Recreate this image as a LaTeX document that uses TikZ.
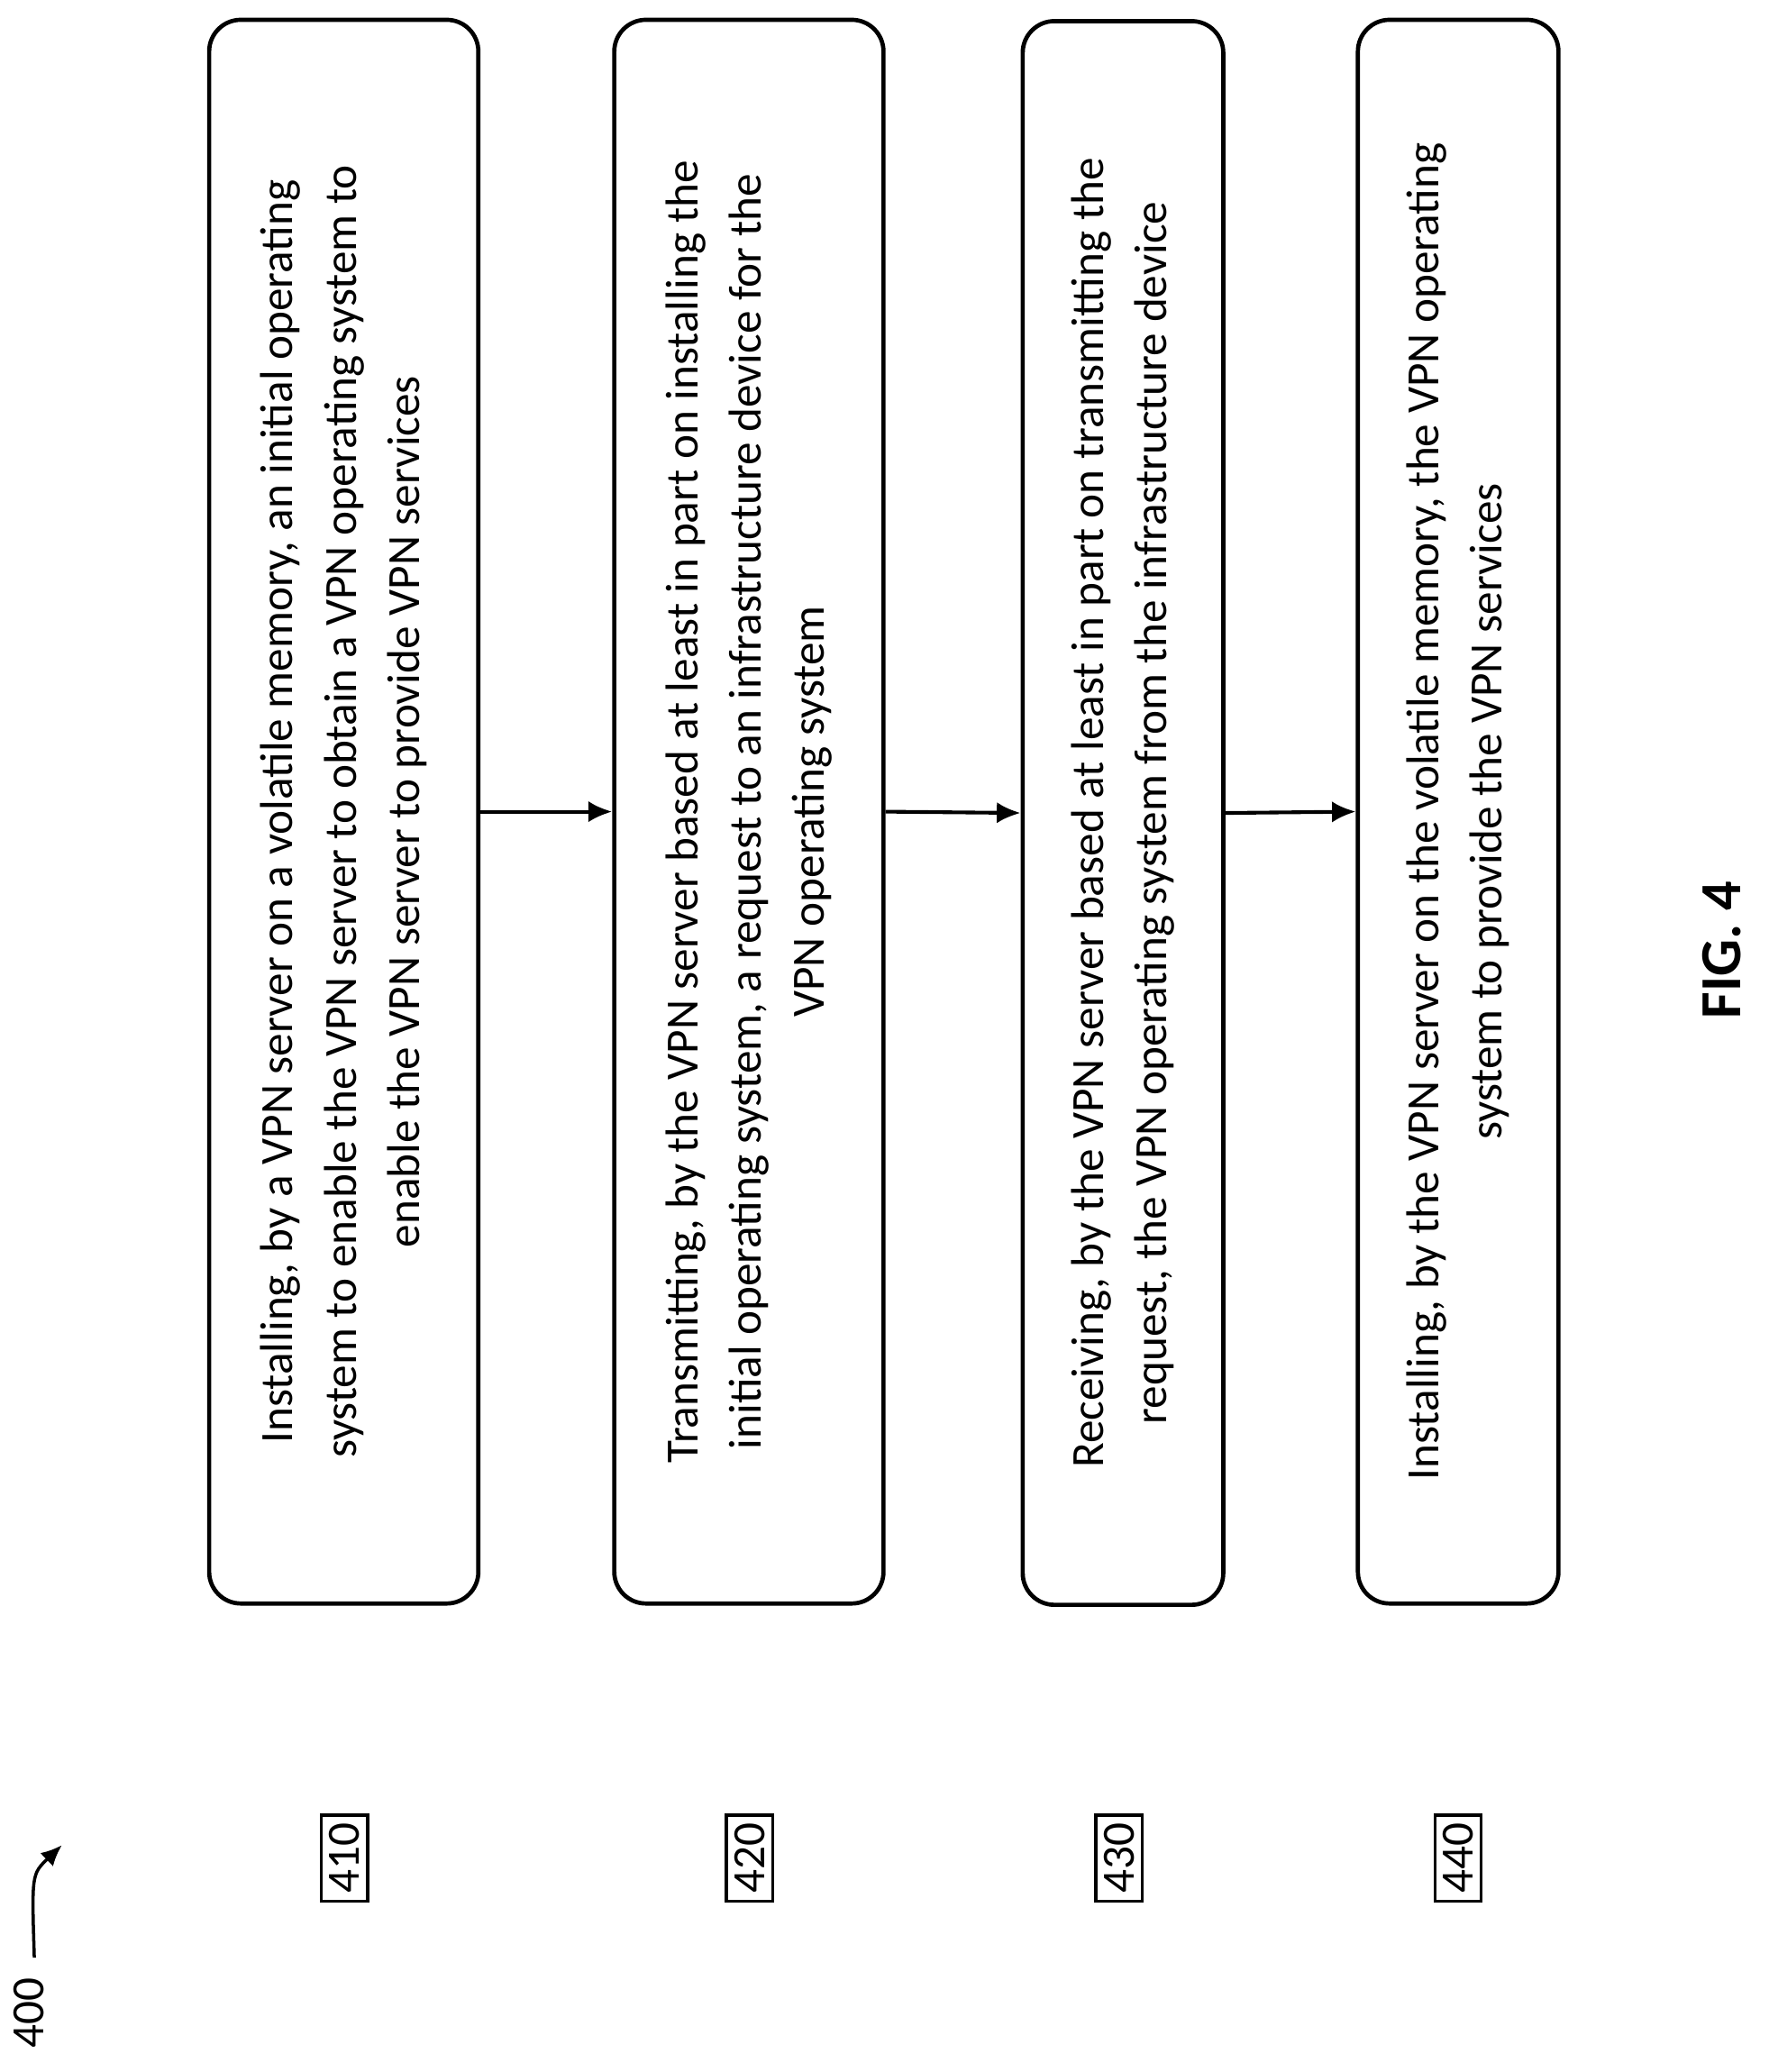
\documentclass[tikz,border=0pt]{standalone}
\usepackage{fontspec}
\setmainfont{Carlito}
\usetikzlibrary{positioning,arrows.meta}
\tikzset{
    stepbox/.style={draw=black, line width=1.6pt, rounded corners=12pt, rotate=90,
        minimum width=600pt, minimum height=102pt, align=center,
        font=\fontsize{17.5}{24}\selectfont, inner sep=4pt},
    narrowbox/.style={stepbox, minimum height=76pt},
    tag/.style={draw=black, line width=1.2pt, rotate=90, inner sep=3pt,
        font=\fontsize{17.5}{20}\selectfont},
    flow/.style={-{Latex[length=9pt,width=8pt]}, line width=1.4pt},
}
\begin{document}
\begin{tikzpicture}[x=0.5pt,y=-0.5pt]
	\useasboundingbox (0,0) rectangle (1340,1570);
	\node[stepbox] (s410) at (260.5,615) {Installing, by a VPN server on a volatile memory, an initial operating\\system to enable the VPN server to obtain a VPN operating system to\\enable the VPN server to provide VPN services};
	\node[stepbox] (s420) at (567.5,615) {Transmitting, by the VPN server based at least in part on installing the\\initial operating system, a request to an infrastructure device for the\\VPN operating system};
	\node[narrowbox] (s430) at (851,616) {Receiving, by the VPN server based at least in part on transmitting the\\request, the VPN operating system from the infrastructure device};
	\node[narrowbox] (s440) at (1105,615) {Installing, by the VPN server on the volatile memory, the VPN operating\\system to provide the VPN services};
	\draw[flow] (s410.south) -- (s420.north);
	\draw[flow] (s420.south) -- (s430.north);
	\draw[flow] (s430.south) -- (s440.north);
	% step numbers
	\node[tag] (n410) at (261,1408) {410};
	\node[tag] (n420) at (568,1408) {420};
	\node[tag] (n430) at (848,1408) {430};
	\node[tag] (n440) at (1105,1408) {440};
	\node[rotate=90, font=\fontsize{17.5}{20}\selectfont] (fig) at (22,1525) {400};
	\coordinate (tip) at (47,1398);
	\draw[-{Latex[length=8pt,width=7pt]}, line width=1.2pt] (fig.east) ++(4,-8) .. controls (24,1420) .. (tip);
	\node[rotate=90, font=\fontsize{22}{24}\selectfont\bfseries] (cap) at (1305,720) {FIG. 4};
\end{tikzpicture}
\end{document}
